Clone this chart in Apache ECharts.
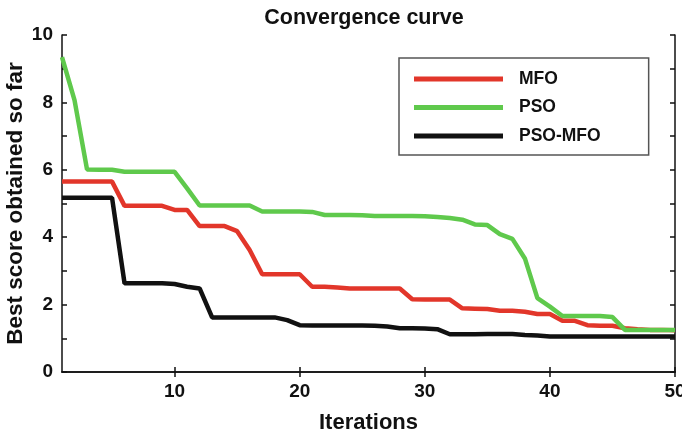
<!DOCTYPE html>
<html><head><meta charset="utf-8">
<script src="https://cdn.jsdelivr.net/npm/echarts@6/dist/echarts.min.js"></script>
<style>html,body{margin:0;padding:0;background:#fff}#c{width:682px;height:432px}</style>
</head><body><div id="c"></div>
<script>
const iterations = Array.from({length:50},(_,i)=>i+1);
const mfo = [5.65,5.65,5.65,5.65,5.65,4.93,4.93,4.93,4.93,4.81,4.81,4.33,4.33,4.33,4.18,3.62,2.90,2.90,2.90,2.90,2.53,2.53,2.51,2.48,2.48,2.48,2.48,2.48,2.16,2.15,2.15,2.15,1.89,1.88,1.87,1.82,1.82,1.79,1.72,1.72,1.52,1.52,1.39,1.37,1.37,1.30,1.27,1.25,1.25,1.24];
const pso = [9.34,8.07,6.01,6.0,6.0,5.94,5.94,5.94,5.94,5.94,5.45,4.94,4.94,4.94,4.94,4.94,4.76,4.76,4.76,4.76,4.75,4.66,4.66,4.66,4.65,4.63,4.63,4.63,4.63,4.62,4.60,4.57,4.52,4.38,4.36,4.09,3.95,3.37,2.19,1.94,1.66,1.66,1.66,1.66,1.63,1.25,1.25,1.25,1.25,1.25];
const psomfo = [5.17,5.17,5.17,5.17,5.17,2.63,2.63,2.63,2.63,2.61,2.53,2.48,1.62,1.62,1.62,1.62,1.62,1.62,1.54,1.39,1.38,1.38,1.38,1.38,1.38,1.37,1.35,1.30,1.30,1.29,1.27,1.12,1.12,1.12,1.13,1.13,1.13,1.10,1.08,1.05,1.05,1.05,1.05,1.05,1.05,1.05,1.05,1.05,1.05,1.05];
const xTicks = [10,20,30,40,50];
const seriesNames = ['MFO','PSO','PSO-MFO'];
const colors = ['#e2362a','#5fc94c','#111111'];

const chart = echarts.init(document.getElementById('c'));
const pair = arr => iterations.map((x,i)=>[x,arr[i]]);
const tickFont = {fontFamily:'"Liberation Sans Narrow","Liberation Sans",Arial,sans-serif',fontWeight:'bold',fontSize:19,color:'#111'};
const axisLine = {show:true,lineStyle:{color:'#111',width:1.5}};
chart.setOption({
  animation:false,
  backgroundColor:'#fff',
  title:{text:'Convergence curve',left:359,top:2,textAlign:'center',
    textStyle:{fontFamily:'"Liberation Sans",Arial,sans-serif',fontWeight:'bold',fontSize:21.5,color:'#111'}},
  grid:{left:62,right:7,top:35,bottom:60,outerBoundsMode:'none',containLabel:false},
  legend:{orient:'vertical',left:399,top:58,padding:[12,48,10,15],itemGap:10.5,
    itemWidth:89,itemHeight:5,icon:'rect',borderColor:'#555',borderWidth:1.5,backgroundColor:'#fff',
    textStyle:{fontFamily:'"Liberation Sans",Arial,sans-serif',fontWeight:'bold',fontSize:17.5,color:'#111',padding:[0,0,0,11]},
    data:seriesNames},
  xAxis:[{type:'value',min:1,max:50,position:'bottom',
    name:'Iterations',nameLocation:'middle',nameGap:40,nameMoveOverlap:false,
    nameTextStyle:{fontFamily:'"Liberation Sans",Arial,sans-serif',fontWeight:'bold',fontSize:22,color:'#111'},
    axisLine:axisLine,splitLine:{show:false},
    axisTick:{inside:true,length:5,customValues:xTicks,lineStyle:{color:'#111',width:1.5}},
    axisLabel:{customValues:xTicks,margin:10,...tickFont}},
   {type:'value',min:1,max:50,position:'top',axisLine:axisLine,splitLine:{show:false},
    axisTick:{inside:true,length:5,customValues:xTicks,lineStyle:{color:'#111',width:1.5}},
    axisLabel:{show:false}}],
  yAxis:[{type:'value',min:0,max:10,interval:2,position:'left',
    name:'Best score obtained so far',nameLocation:'middle',nameGap:35,nameMoveOverlap:false,
    nameTextStyle:{fontFamily:'"Liberation Sans",Arial,sans-serif',fontWeight:'bold',fontSize:22.5,color:'#111'},
    axisLine:axisLine,splitLine:{show:false},
    axisTick:{inside:true,length:5,lineStyle:{color:'#111',width:1.5}},
    minorTick:{show:true,splitNumber:2,length:5,lineStyle:{color:'#111',width:1.5}},
    axisLabel:{margin:9,...tickFont}},
   {type:'value',min:0,max:10,interval:2,position:'right',
    axisLine:axisLine,splitLine:{show:false},
    axisTick:{inside:true,length:5,lineStyle:{color:'#111',width:1.5}},
    minorTick:{show:true,splitNumber:2,length:5,lineStyle:{color:'#111',width:1.5}},
    axisLabel:{show:false}}],
  series:[mfo,pso,psomfo].map((d,i)=>({
    name:seriesNames[i],type:'line',data:pair(d),showSymbol:false,symbol:'none',
    lineStyle:{color:colors[i],width:4.5},itemStyle:{color:colors[i]},z:2+(i===2?1:0)
  }))
});
</script></body></html>
